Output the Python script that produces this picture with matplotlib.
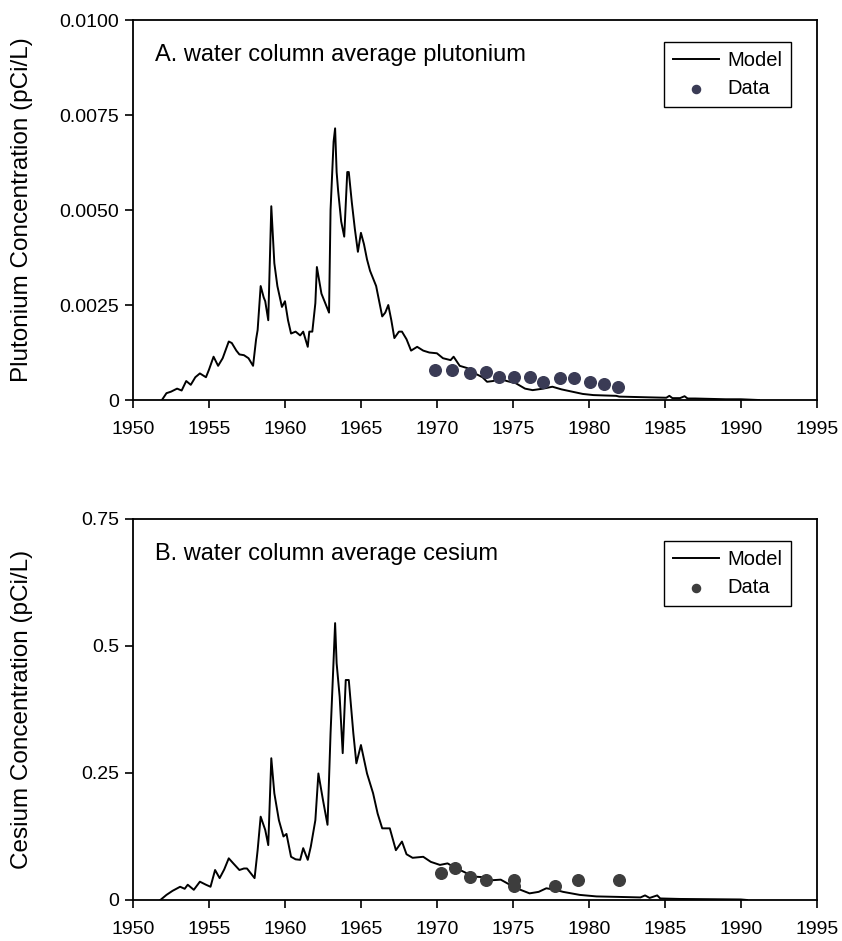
import matplotlib
matplotlib.use("Agg")
import matplotlib.pyplot as plt
import numpy as np

plt.rcParams['font.family'] = ['Liberation Sans', 'DejaVu Sans']

## données : plutonium (modèle)
pu_years = [1951.9, 1952.2, 1952.5, 1952.9, 1953.2, 1953.5, 1953.8, 1954.1, 1954.4, 1954.8,
            1955.0, 1955.3, 1955.6, 1955.9, 1956.3, 1956.5, 1956.8, 1957.0, 1957.3, 1957.6,
            1957.9, 1958.1, 1958.2, 1958.4, 1958.6, 1958.7, 1958.9, 1959.1, 1959.3, 1959.5,
            1959.8, 1960.0, 1960.2, 1960.4, 1960.7, 1961.0, 1961.2, 1961.5, 1961.6, 1961.8,
            1962.0, 1962.1, 1962.4, 1962.6, 1962.9, 1963.0, 1963.2, 1963.3, 1963.4, 1963.5,
            1963.7, 1963.9, 1964.1, 1964.2, 1964.4, 1964.6, 1964.8, 1965.0, 1965.2, 1965.4,
            1965.6, 1965.8, 1966.0, 1966.2, 1966.4, 1966.6, 1966.8, 1967.0, 1967.2, 1967.5,
            1967.7, 1968.0, 1968.3, 1968.7, 1969.1, 1969.5, 1970.0, 1970.4, 1970.9, 1971.1,
            1971.5, 1972.0, 1972.5, 1973.0, 1973.3, 1973.7, 1974.1, 1974.6, 1975.2, 1975.8,
            1976.3, 1977.0, 1977.6, 1978.2, 1978.9, 1979.6, 1980.3, 1981.0, 1981.8, 1982.0,
            1983.0, 1984.0, 1985.1, 1985.3, 1985.5, 1986.0, 1986.3, 1986.5, 1987.0, 1988.0,
            1989.0, 1990.0, 1991.2]
pu_model = [0, 0.00018, 0.00022, 0.0003, 0.00025, 0.0005, 0.0004, 0.0006, 0.0007, 0.0006,
            0.0008, 0.00114, 0.0009, 0.0011, 0.00154, 0.0015, 0.0013, 0.0012, 0.00118, 0.0011,
            0.0009, 0.0016, 0.00184, 0.003, 0.0027, 0.0026, 0.0021, 0.0051, 0.0036, 0.003,
            0.00245, 0.0026, 0.0021, 0.00175, 0.0018, 0.0017, 0.0018, 0.0014, 0.0018, 0.0018,
            0.00255, 0.0035, 0.0028, 0.0026, 0.0023, 0.005, 0.0068, 0.00715, 0.006, 0.0055,
            0.0047, 0.0043, 0.006, 0.006, 0.0052, 0.0045, 0.0039, 0.0044, 0.0041, 0.0037,
            0.0034, 0.0032, 0.003, 0.0026, 0.0022, 0.0023, 0.0025, 0.0021, 0.00163, 0.0018,
            0.0018, 0.0016, 0.0013, 0.0014, 0.0013, 0.00125, 0.00123, 0.0011, 0.00105, 0.00114,
            0.0009, 0.00084, 0.0007, 0.0006, 0.00048, 0.0005, 0.00057, 0.0005, 0.00044, 0.0003,
            0.00026, 0.0003, 0.00035, 0.00028, 0.00022, 0.00016, 0.00013, 0.00012, 0.00011, 0.00009,
            0.00008, 0.00007, 0.00006, 0.00011, 0.00005, 0.00005, 0.0001, 0.00004, 0.00004, 0.00003,
            0.00002, 0.00002, 0]

## plutonium (mesures)
pu_data_years = [1969.9, 1971.0, 1972.2, 1973.2, 1974.1, 1975.1, 1976.1, 1977.0, 1978.1,
                 1979.0, 1980.1, 1981.0, 1981.9]
pu_data = [0.00079, 0.00079, 0.00072, 0.00075, 0.0006, 0.0006, 0.0006, 0.00048, 0.00057,
           0.00057, 0.00048, 0.00042, 0.00033]

## césium (modèle)
cs_years = [1951.8, 1952.2, 1952.6, 1953.1, 1953.4, 1953.6, 1954.0, 1954.4, 1954.8, 1955.1,
            1955.4, 1955.7, 1956.0, 1956.3, 1956.6, 1957.0, 1957.3, 1957.5, 1958.0, 1958.2,
            1958.4, 1958.7, 1958.9, 1959.1, 1959.3, 1959.6, 1959.9, 1960.1, 1960.4, 1960.7,
            1961.0, 1961.2, 1961.5, 1961.7, 1962.0, 1962.2, 1962.5, 1962.8, 1963.0, 1963.2,
            1963.3, 1963.4, 1963.6, 1963.8, 1964.0, 1964.2, 1964.5, 1964.7, 1965.0, 1965.4,
            1965.8, 1966.1, 1966.4, 1966.9, 1967.3, 1967.7, 1968.0, 1968.4, 1969.1, 1969.6,
            1970.2, 1970.7, 1971.3, 1971.8, 1972.4, 1973.0, 1973.7, 1974.2, 1974.8, 1975.5,
            1976.1, 1976.7, 1977.2, 1977.8, 1978.3, 1979.4, 1980.5, 1982.0, 1983.4, 1983.7,
            1984.0, 1984.5, 1984.7, 1986.0, 1988.0, 1990.0, 1990.4]
cs_model = [0, 0.01, 0.018, 0.026, 0.022, 0.03, 0.02, 0.036, 0.03, 0.026,
            0.059, 0.043, 0.06, 0.082, 0.072, 0.059, 0.062, 0.062, 0.043, 0.098,
            0.164, 0.138, 0.108, 0.279, 0.21, 0.157, 0.125, 0.13, 0.085, 0.08,
            0.079, 0.102, 0.079, 0.105, 0.157, 0.249, 0.197, 0.148, 0.328, 0.472,
            0.545, 0.466, 0.40, 0.289, 0.433, 0.433, 0.328, 0.269, 0.305, 0.249,
            0.21, 0.17, 0.141, 0.141, 0.098, 0.115, 0.09, 0.083, 0.085, 0.075,
            0.069, 0.072, 0.062, 0.055, 0.046, 0.045, 0.039, 0.04, 0.03, 0.02,
            0.013, 0.016, 0.023, 0.02, 0.016, 0.01, 0.007, 0.006, 0.005, 0.009,
            0.004, 0.009, 0.003, 0.002, 0.0015, 0.001, 0]

## césium (mesures)
cs_data_years = [1970.3, 1971.2, 1972.2, 1973.2, 1975.1, 1975.1, 1977.8, 1979.3, 1982.0]
cs_data = [0.054, 0.062, 0.046, 0.039, 0.040, 0.027, 0.027, 0.040, 0.040]

x_ticks = [1950, 1955, 1960, 1965, 1970, 1975, 1980, 1985, 1990, 1995]
pu_ticks = [0, 0.0025, 0.005, 0.0075, 0.01]
pu_tick_labels = ["0", "0.0025", "0.0050", "0.0075", "0.0100"]
cs_ticks = [0, 0.25, 0.5, 0.75]
cs_tick_labels = ["0", "0.25", "0.5", "0.75"]

fig = plt.figure(figsize=(8.42, 9.41), dpi=100)
ax1 = fig.add_axes([0.158, 0.5749, 0.812, 0.4038])
ax2 = fig.add_axes([0.158, 0.0436, 0.812, 0.4049])


def habiller(ax, yt, ylab, ytitle, titre, lim):
    ax.set_xlim(1950, 1995)
    ax.set_ylim(0, lim)
    ax.set_xticks(x_ticks)
    ax.set_yticks(yt)
    ax.set_yticklabels(ylab)
    ax.tick_params(direction='out', length=6, width=1.2, labelsize=14, pad=4)
    ax.tick_params(axis='x', pad=9)
    for s in ax.spines.values():
        s.set_linewidth(1.3)
    ax.set_ylabel(ytitle, fontsize=17.5)
    ax.yaxis.set_label_coords(-0.146, 0.5)
    ax.text(0.032, 0.908, titre, transform=ax.transAxes, fontsize=17, va='center')
    ax.legend(loc='upper right', bbox_to_anchor=(0.963, 0.942), borderaxespad=0,
              fancybox=False, edgecolor='black', framealpha=1, fontsize=14.5,
              handlelength=2.3, borderpad=0.45, labelspacing=0.45, handletextpad=0.4,
              markerscale=0.7)
    ax.get_legend().get_frame().set_linewidth(1.0)


ax1.plot(pu_years, pu_model, color='black', lw=1.4, label='Model')
ax1.scatter(pu_data_years, pu_data, s=70, color='#3a3b55', zorder=3, label='Data')
habiller(ax1, pu_ticks, pu_tick_labels, "Plutonium Concentration (pCi/L)",
         "A. water column average plutonium", 0.01)

ax2.plot(cs_years, cs_model, color='black', lw=1.4, label='Model')
ax2.scatter(cs_data_years, cs_data, s=70, color='#3d3d3d', zorder=3, label='Data')
habiller(ax2, cs_ticks, cs_tick_labels, "Cesium Concentration (pCi/L)",
         "B. water column average cesium", 0.75)

plt.savefig("out.png", dpi=100)
